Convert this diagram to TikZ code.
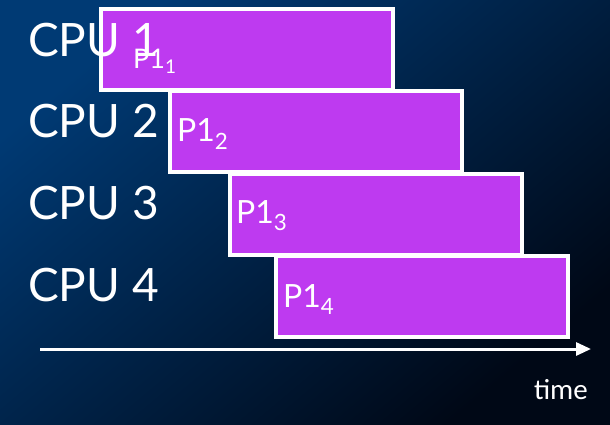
\documentclass[tikz,border=0pt]{standalone}
\usepackage{fontspec}
\setmainfont{Lato}
\newfontfamily\timefont{Carlito}
\usetikzlibrary{arrows.meta}
\definecolor{bgtop}{RGB}{0,58,116}
\definecolor{bgbottom}{RGB}{0,8,22}
\definecolor{procpurple}{RGB}{190,58,240}

\tikzset{
  procbox/.style={draw=white, line width=4pt, fill=procpurple, anchor=north west,
    minimum width=292pt, minimum height=81pt, inner sep=0pt, outer sep=0pt},
  cpulabel/.style={text=white, anchor=base west, inner sep=0pt, font=\fontsize{46}{50}\selectfont},
  proclabel/.style={text=white, anchor=base west, inner sep=0pt, font=\fontsize{32}{36}\selectfont},
  timeaxis/.style={white, line width=3pt, -{Triangle[length=15pt,width=13pt]}}
}

\begin{document}
\begin{tikzpicture}[x=1pt, y=-1pt]
  \shade[shading=axis, top color=bgtop, bottom color=bgbottom, shading angle=40]
    (0,0) rectangle (610,425);
  \useasboundingbox (0,0) rectangle (610,425);

  % one box per processor, staggered in time
  \node[procbox] (job1) at (101,9) {};
  \node[procbox] (job2) at (170,91) {};
  \node[procbox] (job3) at (230,174) {};
  \node[procbox] (job4) at (276,256) {};

  \node[proclabel, font=\fontsize{27}{30}\selectfont] (lab1) at (133,69) {P1\textsubscript{1}};
  \node[proclabel] (lab2) at (177,142) {P1\textsubscript{2}};
  \node[proclabel] (lab3) at (236,223) {P1\textsubscript{3}};
  \node[proclabel] (lab4) at (283,307) {P1\textsubscript{4}};

  \foreach \i/\yb in {1/57, 2/138, 3/219, 4/301}
    \node[cpulabel] (cpu\i) at (28,\yb) {CPU \i};

  % time axis
  \coordinate (tstart) at (40,349);
  \coordinate (tend) at (591,349);
  \draw[timeaxis] (tstart) -- (tend);
  \node[text=white, anchor=base east, inner sep=0pt, font=\timefont\fontsize{29}{32}\selectfont]
    (timelab) at (588,399) {time};
\end{tikzpicture}
\end{document}
